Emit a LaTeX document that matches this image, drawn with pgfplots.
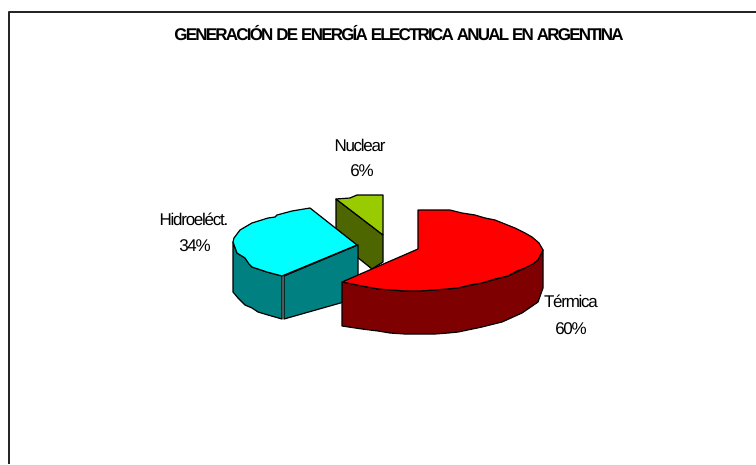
\documentclass[border=0pt]{standalone}
\usepackage{pgfplots}
\pgfplotsset{compat=1.18}
\usepackage{fontspec}
\setmainfont{Liberation Sans}
\newfontfamily\tight[LetterSpace=-7.5]{Liberation Sans}
\newfontfamily\tighttitle[LetterSpace=-10.5]{Liberation Sans}
\definecolor{redtop}{HTML}{FF0000}
\definecolor{redside}{HTML}{7F0000}
\definecolor{cyantop}{HTML}{00FFFF}
\definecolor{cyanside}{HTML}{008080}
\definecolor{olivetop}{HTML}{99CC00}
\definecolor{oliveside}{HTML}{4D6600}
\begin{document}
\begin{tikzpicture}
\begin{axis}[
  scale only axis, width=756pt, height=464pt,
  xmin=0, xmax=756, ymin=0, ymax=464, y dir=reverse,
  hide axis, clip=true,
  every axis plot/.append style={line width=1.2pt, draw=black, line join=round},
]
% frame
\addplot[line width=1.5pt, draw=black!85] coordinates {(9,464) (9,12) (756,12)};
% Nuclear
\addplot[fill=oliveside] coordinates {(336,199) (383,235) (383,262) (372,269) (336,240)} --cycle;
\addplot[fill=olivetop] coordinates {(336,199) (350,198) (357,195) (383,195) (383,235)} --cycle;
% Hidroelectrica
\addplot[fill=cyanside] coordinates {(233,242) (233,292) (238,298) (245,305) (252,308) (258,312) (268,315) (282,319) (282,276) (267,272) (252,267) (245,258) (237,253)} --cycle;
\addplot[fill=cyanside] coordinates {(284,276) (358,245) (358,298) (284,319)} --cycle;
\addplot[fill=cyantop] coordinates {(357,245) (310,208) (292,211) (277,215) (275,217) (268,218) (252,223) (240,230) (234,238) (233,242) (237,253) (245,258) (249,264) (252,267) (267,272) (282,276)} --cycle;
% Termica
\addplot[fill=redside] coordinates {(342,282) (342,326) (362,329) (378,331) (390,333) (405,334) (435,334) (448,333) (458,332) (482,327) (502,322) (522,313) (538,302) (543,288) (543,250) (538,260) (525,268) (508,276) (482,283) (458,288) (435,290) (405,291) (378,289) (362,286)} --cycle;
\addplot[fill=redtop] coordinates {(418,249) (418,210) (450,210) (462,213) (475,215) (485,218) (495,220) (505,224) (515,228) (525,233) (532,237) (539,243) (543,250) (538,260) (533,264) (525,268) (517,271) (508,276) (495,279) (482,283) (470,285) (458,288) (435,290) (420,291) (405,291) (392,290) (378,289) (362,286) (342,282)} --cycle;
% text
\node[font=\fontsize{17}{18}\tighttitle\bfseries] at (axis cs:399,33) {GENERACIÓN DE ENERGÍA ELECTRICA ANUAL EN ARGENTINA};
\node[font=\fontsize{17}{18}\tight] at (axis cs:360,145) {Nuclear};
\node[font=\fontsize{17}{18}\tight] at (axis cs:362,171) {6\%};
\node[font=\fontsize{17}{18}\tight] at (axis cs:194,219) {Hidroeléct.};
\node[font=\fontsize{17}{18}\tight] at (axis cs:195,246) {34\%};
\node[font=\fontsize{17}{18}\tight] at (axis cs:571,301) {Térmica};
\node[font=\fontsize{17}{18}\tight] at (axis cs:571,329) {60\%};
\end{axis}
\useasboundingbox (current axis.south west) rectangle (current axis.north east);
\end{tikzpicture}
\end{document}
